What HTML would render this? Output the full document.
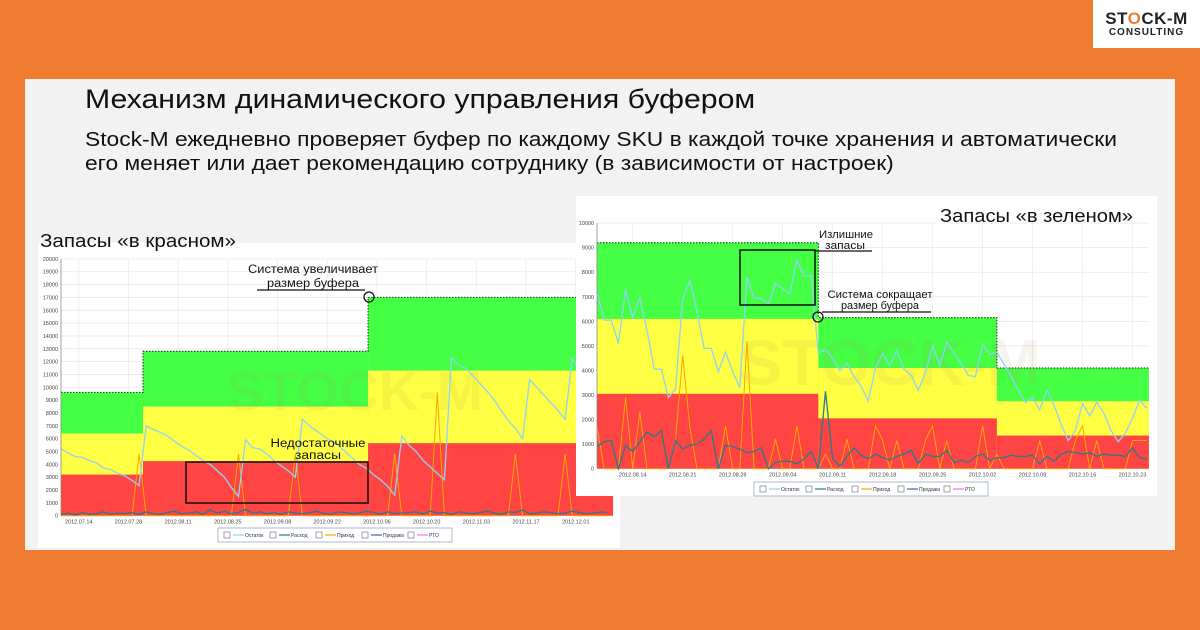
<!DOCTYPE html>
<html><head><meta charset="utf-8">
<style>
body{margin:0;width:1200px;height:630px;overflow:hidden;background:#EE7D31;font-family:"Liberation Sans",sans-serif;position:relative}
#panel{position:absolute;left:25px;top:79px;width:1150px;height:471px;background:#F2F2F2}
#logo{position:absolute;left:1093px;top:0;width:107px;height:48px;background:#fff;text-align:center}
.abs{position:absolute}
</style></head><body>
<div id="panel"></div>
<div id="logo">
 <div style="font-weight:bold;font-size:17px;margin-top:9px;letter-spacing:0.5px;color:#222">ST<span style="color:#EE7D31">O</span>CK-M</div>
 <div style="font-weight:bold;font-size:10px;letter-spacing:1px;color:#222;margin-top:-2px">CONSULTING</div>
</div>
<div class="abs" style="left:85px;top:84px;font-size:27px;color:#111;white-space:nowrap;transform:scaleX(1.12);transform-origin:0 0">Механизм динамического управления буфером</div>
<div class="abs" style="left:85px;top:128px;font-size:20px;line-height:24px;color:#111;white-space:nowrap;transform:scaleX(1.14);transform-origin:0 0">Stock-M ежедневно проверяет буфер по каждому SKU в каждой точке хранения и автоматически<br>его меняет или дает рекомендацию сотруднику (в зависимости от настроек)</div>
<svg id="chart" class="abs" style="left:0;top:0" width="1200" height="630"></svg>
<script>
// ===== LEFT CHART DATA ("в красном") =====
const leftDates=["2012.07.14","2012.07.28","2012.08.11","2012.08.25","2012.09.08","2012.09.22","2012.10.06","2012.10.20","2012.11.03","2012.11.17","2012.12.01"];
const leftYTicks=[0,1000,2000,3000,4000,5000,6000,7000,8000,9000,10000,11000,12000,13000,14000,15000,16000,17000,18000,19000,20000];
const leftStepDays=[0,23.1,86.5,155.5];
const leftGreen=[9600,12800,17000];
const leftYellow=[6400,8500,11300];
const leftRed=[3200,4250,5650];
const leftStock=[5200,4900,4600,4550,4300,4100,3700,3600,3300,3100,2750,2350,7000,6700,6500,6200,5800,5400,5100,4700,4300,4000,3500,3000,2200,1500,5900,5300,5200,4800,4300,3900,3500,3000,7500,7000,6600,6200,5800,5500,5000,4500,4000,3700,3200,2800,2300,1600,6200,5500,5000,4300,3800,3300,2800,12300,11700,11500,10900,10300,9700,9000,8200,7400,6800,6000,10600,10000,9400,8800,8200,7500,12200,11500,11000,10500,10000,9500];
const leftIncome=[0,0,0,0,0,0,0,0,0,0,0,4800,0,0,0,0,0,0,0,0,0,0,0,0,0,4800,0,0,0,0,0,0,0,4800,0,0,0,0,0,0,0,0,0,0,0,0,0,4800,0,0,0,0,0,9600,0,0,0,0,0,0,0,0,0,0,4800,0,0,0,0,0,0,4800,0,0,0,0,0,0];
const leftOut=[100,200,50,250,100,150,300,100,200,150,250,100,300,150,100,250,350,150,200,300,100,450,200,350,150,250,500,200,300,150,250,100,300,200,150,250,350,200,100,300,250,150,200,350,250,100,300,150,200,250,300,150,350,200,250,100,300,200,150,250,350,200,100,300,250,450,150,200,300,250,150,200,350,250,150,200,300,250];
// ===== RIGHT CHART DATA ("в зеленом") =====
const rightDates=["2012.08.14","2012.08.21","2012.08.28","2012.09.04","2012.09.11","2012.09.18","2012.09.25","2012.10.02","2012.10.09","2012.10.16","2012.10.23"];
const rightYTicks=[0,1000,2000,3000,4000,5000,6000,7000,8000,9000,10000];
const rightStepDays=[0,31,56,77.3];
const rightGreen=[9200,6150,4100];
const rightYellow=[6100,4100,2750];
const rightRed=[3050,2050,1350];
const rightStock=[7200,6050,6050,5100,7300,6150,6950,5650,4050,4050,2900,3250,6900,7650,6450,4900,4900,3950,4750,3950,3300,7800,6950,6950,6700,7550,7350,7100,8500,7850,7850,4700,4850,4500,4000,4300,3750,3350,2750,4100,4700,4200,4800,4050,3800,3200,3900,5000,4200,5150,4700,4300,3800,3750,5050,4650,4750,4250,3750,3200,2700,2900,2400,3200,2600,1800,1150,1550,2650,2150,2700,2250,1550,1100,1450,2050,2800,2450];
const rightIncome=[1700,0,0,0,2900,0,2300,0,0,0,0,1200,4600,1700,0,0,0,0,1750,0,0,5200,0,0,0,1200,0,0,1750,0,0,0,600,0,0,1200,0,0,0,1750,1150,0,1150,0,0,0,1150,1750,0,1150,0,0,0,0,1750,0,600,0,0,0,0,0,1150,0,0,0,0,1150,1750,0,1150,0,0,0,0,1150,1150,1150];
const rightOut=[900,1100,1150,0,950,700,1100,1500,1300,1550,0,1150,800,950,1000,1200,1550,0,950,900,800,650,700,850,0,250,300,300,200,400,700,0,3150,400,100,500,850,550,400,600,450,350,500,600,750,200,600,500,500,750,250,350,250,500,600,350,450,450,550,500,500,550,200,500,300,600,700,650,600,650,500,600,550,550,500,850,450,400];

const NS="http://www.w3.org/2000/svg";
const svg=document.getElementById('chart');
function mk(tag,attrs,parent){const e=document.createElementNS(NS,tag);for(const k in attrs)e.setAttribute(k,attrs[k]);(parent||svg).appendChild(e);return e;}

function drawChart(c){
  const g=mk('g',{});
  
  
  const bg=mk('rect',{x:c.box[0],y:c.box[1],width:c.box[2],height:c.box[3],fill:'#fff'},g);
  
  
  const X=d=>c.x0+d*c.dx, Y=v=>c.y0-v*c.ky;
  c.yticks.forEach(v=>{
    const l=mk('line',{x1:c.x0,x2:c.xEnd,y1:Y(v),y2:Y(v),stroke:'#e8e8e8','stroke-width':0.8},g);
    
    
    const t=mk('text',{x:c.x0-3,y:Y(v)+2,'font-size':5.5,'text-anchor':'end',fill:'#444'},g);
    t.textContent=v;
    
    
  });
  c.dates.forEach((s,i)=>{
    const d=c.firstDate+7*c.dateStep*i;
    mk('line',{x1:X(d),x2:X(d),y1:c.y0-c.ky*c.yticks[c.yticks.length-1],y2:c.y0,stroke:'#ececec','stroke-width':0.8},g);
    const t=mk('text',{x:X(d),y:c.y0+8,'font-size':5.5,'text-anchor':'middle',fill:'#444'},g);
    t.textContent=s;
    
    
  });
  [['green',c.green,'#44FF44'],['yellow',c.yellow,'#FFFF44'],['red',c.red,'#FF4444']].forEach(([n,arr,col])=>{
    arr.forEach((v,i)=>{
      const r=mk('rect',{x:X(c.steps[i]),y:Y(v),width:X(c.steps[i+1])-X(c.steps[i]),height:c.y0-Y(v),fill:col},g);
      
      
    });
  });
  let p='';
  c.green.forEach((v,i)=>{p+=(i?'L':'M')+X(c.steps[i])+','+Y(v)+'L'+X(c.steps[i+1])+','+Y(v);});
  const bl=mk('path',{d:p,fill:'none',stroke:'#1a5a1a','stroke-width':1.2,'stroke-dasharray':'1.5,1.5'},g);
  
  
  const wm=mk('text',{x:c.wm[0],y:c.wm[1],'font-size':c.wm[2],'font-weight':'bold',fill:'#b08a50','fill-opacity':0.1,'text-anchor':'middle'},g);
  wm.textContent='STOCK-M';
  
  
  const series=(arr,step,col,w,name)=>{
    const pts=arr.map((v,i)=>X(i*step)+','+Y(v)).join(' ');
    const pl=mk('polyline',{points:pts,fill:'none',stroke:col,'stroke-width':w},g);
    
    
  };
  series(c.income,c.step,'#FFA500',1,'income-line');
  series(c.out,c.step,'#2a7a8a',1.3,'outflow-line');
  series(c.stock,c.step,'#8fd3f5',1.3,'stock-line');
  mk('line',{x1:c.x0,x2:c.x0,y1:Y(c.yticks[c.yticks.length-1]),y2:c.y0,stroke:'#888','stroke-width':0.8},g);
  const lg=mk('g',{},g);
  
  
  mk('rect',{x:c.leg[0],y:c.leg[1],width:234,height:14,fill:'#fff',stroke:'#9ab','stroke-width':0.8},lg);
  const items=[['Остаток','#8fd3f5'],['Расход','#2a7a8a'],['Приход','#FFA500'],['Продажа','#3a6aa8'],['РТО','#ff66ff']];
  items.forEach((it,i)=>{
    const lx=c.leg[0]+6+i*46;
    const cb=mk('rect',{x:lx,y:c.leg[1]+4,width:6,height:6,fill:'#fff',stroke:'#666','stroke-width':0.6},lg);
    
    
    mk('line',{x1:lx+9,x2:lx+20,y1:c.leg[1]+7,y2:c.leg[1]+7,stroke:it[1],'stroke-width':1.2},lg);
    const t=mk('text',{x:lx+21,y:c.leg[1]+9,'font-size':5,fill:'#333'},lg);
    t.textContent=it[0];
    
    
  });
}

drawChart({name:'left-chart',box:[38,243,582,305],x0:61,dx:3.55,xEnd:613,y0:515.7,ky:0.01284,yticks:leftYTicks,dates:leftDates,firstDate:5,dateStep:2,steps:leftStepDays,green:leftGreen,yellow:leftYellow,red:leftRed,stock:leftStock,income:leftIncome,out:leftOut,step:2,wm:[355,410,55],leg:[218,528]});
drawChart({name:'right-chart',box:[576,196,581,300],x0:597,dx:7.14,xEnd:1149,y0:468.7,ky:0.02456,yticks:rightYTicks,dates:rightDates,firstDate:5,dateStep:1,steps:rightStepDays,green:rightGreen,yellow:rightYellow,red:rightRed,stock:rightStock,income:rightIncome,out:rightOut,step:1,wm:[890,385,65],leg:[754,482]});

function txt(x,y,s,size,name,anchor,len){const a={x:x,y:y,'font-size':size,'text-anchor':anchor||'middle',fill:'#111'};if(len){a.textLength=len;a.lengthAdjust='spacingAndGlyphs';}const t=mk('text',a);t.textContent=s;return t;}
txt(40,247,'Запасы «в красном»',18,'left-chart-title','start',196);
txt(940,222,'Запасы «в зеленом»',18,'right-chart-title','start',193);
txt(313,273,'Система увеличивает',11.5,'annotation-increase','middle',130);
txt(313,287,'размер буфера',11.5,'annotation-increase','middle',92);
mk('line',{x1:257,x2:365,y1:290,y2:290,stroke:'#111','stroke-width':1.3});
mk('circle',{cx:369,cy:297,r:5,fill:'none',stroke:'#111','stroke-width':1.3});
mk('rect',{x:186,y:462,width:182,height:41,fill:'none',stroke:'#111','stroke-width':1.5});
txt(318,447,'Недостаточные',11.5,'annotation-shortage','middle',95);
txt(318,459,'запасы',11.5,'annotation-shortage','middle',46);
txt(846,238,'Излишние',11,'annotation-excess','middle',54);
txt(845,249,'запасы',11,'annotation-excess','middle',40);
mk('line',{x1:815,x2:872,y1:251,y2:251,stroke:'#111','stroke-width':1.2});
mk('rect',{x:740,y:250,width:75,height:55,fill:'none',stroke:'#111','stroke-width':1.5});
txt(880,298,'Система сокращает',11,'annotation-decrease','middle',105);
txt(880,309,'размер буфера',11,'annotation-decrease','middle',78);
mk('line',{x1:822,x2:931,y1:312,y2:312,stroke:'#111','stroke-width':1.2});
mk('circle',{cx:818,cy:317,r:5,fill:'none',stroke:'#111','stroke-width':1.3});
</script>
</body></html>
